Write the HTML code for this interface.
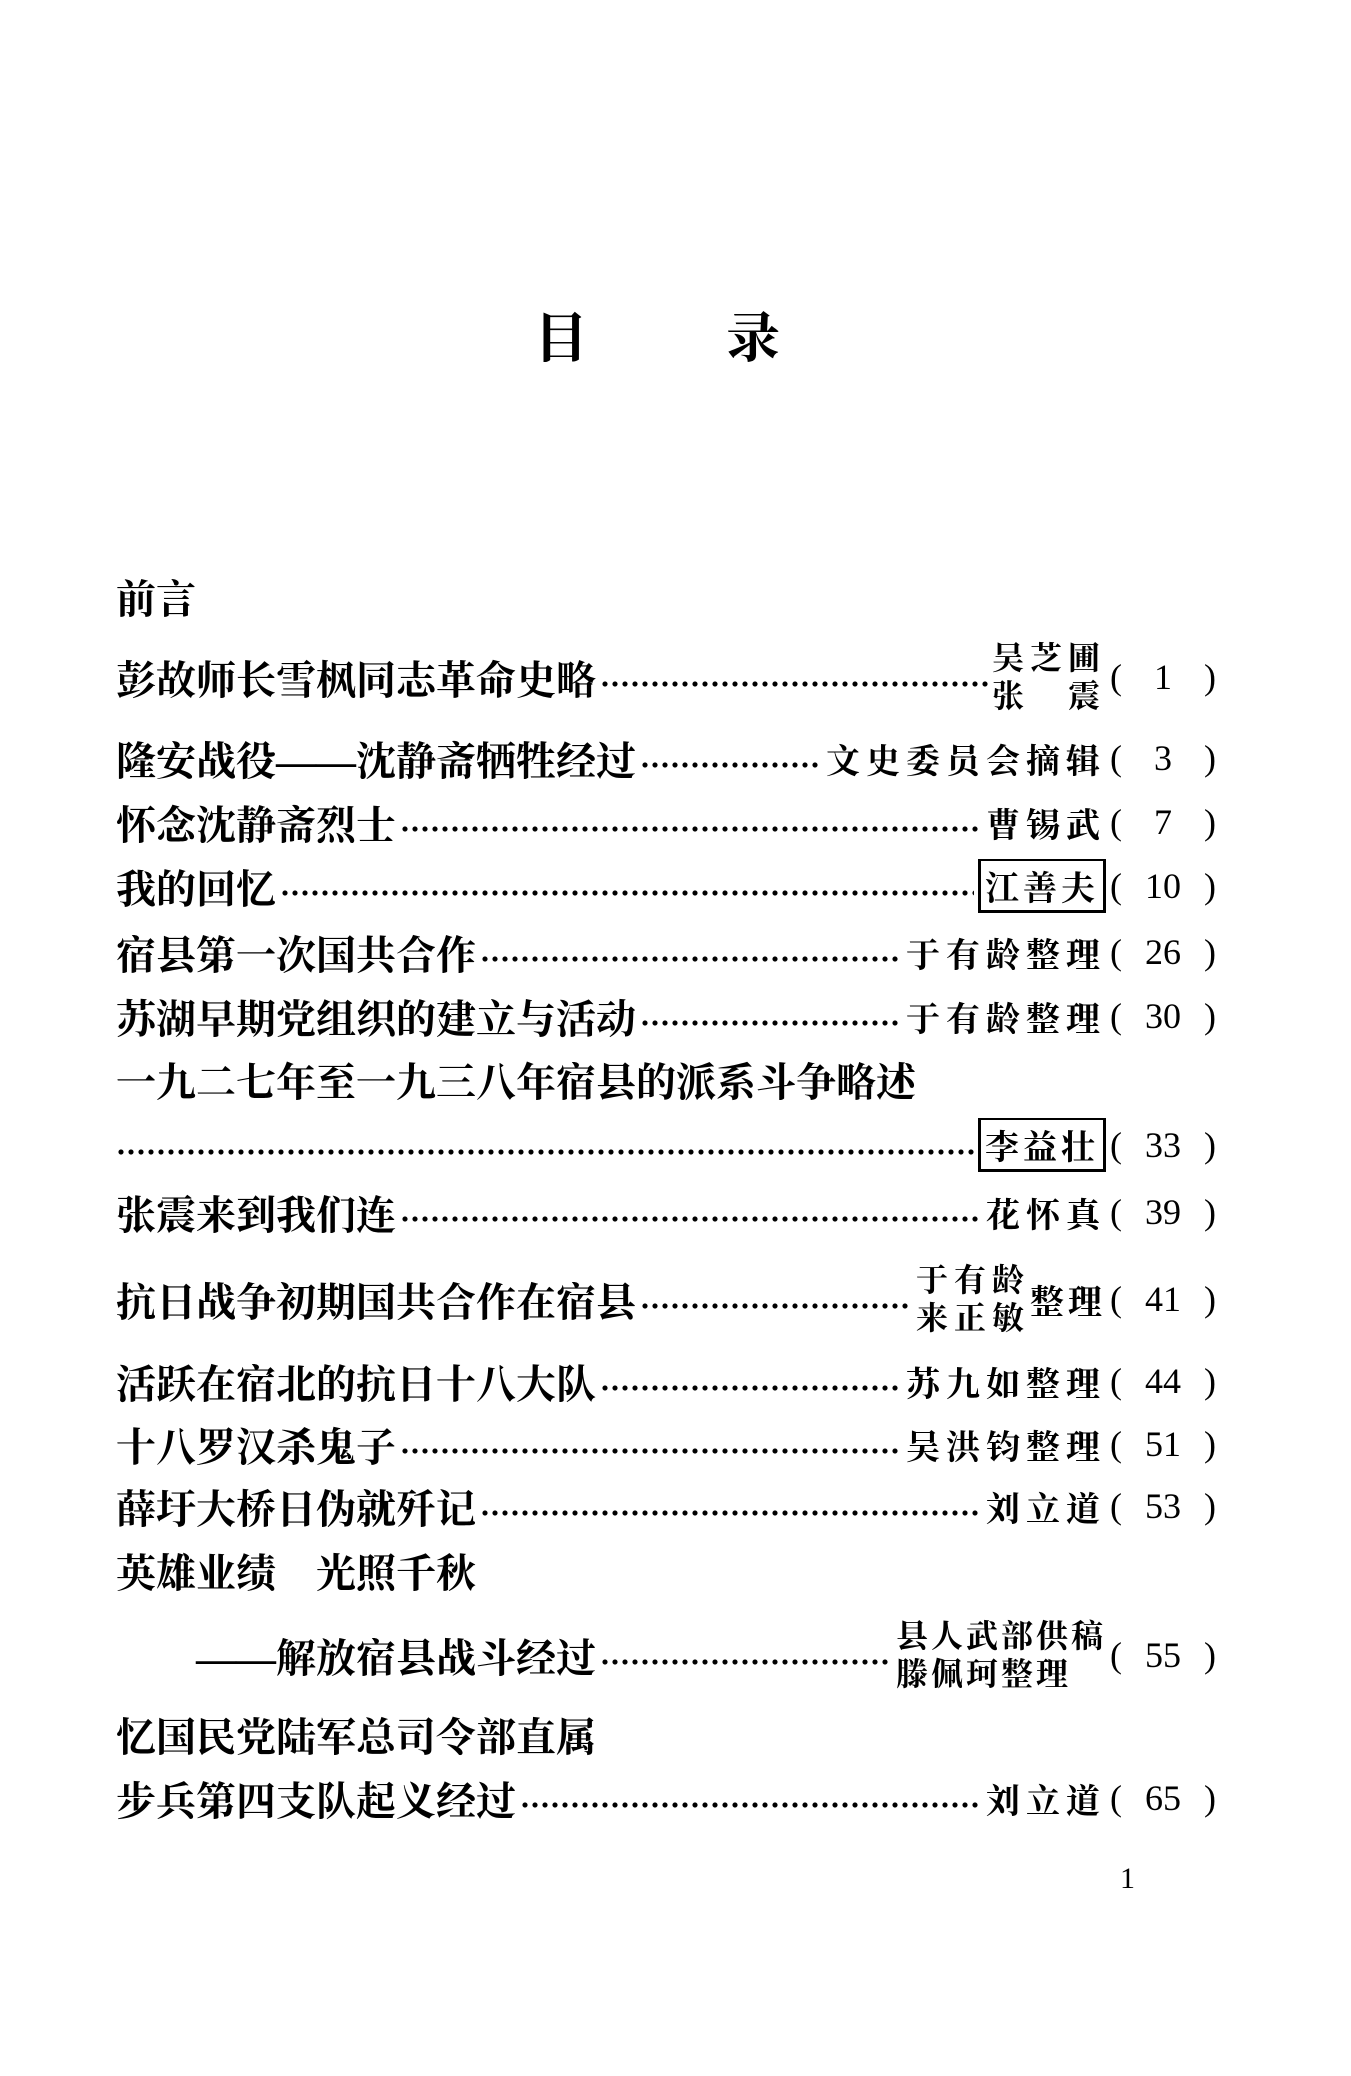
<!DOCTYPE html>
<html><head><meta charset="utf-8"><style>
body{margin:0;width:1351px;height:2076px;background:#fff;position:relative;overflow:hidden;color:#000;font-family:"Liberation Serif","Noto Serif CJK SC",serif}
.t{position:absolute;font-weight:bold;font-size:54px;top:296px}
.r{position:absolute;left:116px;width:990px;height:60px;display:flex;align-items:center;font-size:40px}
.ti{font-family:"Liberation Serif","Noto Serif CJK SC",serif;font-weight:bold;white-space:nowrap}
.d{flex:1;height:8px;margin:14px 4px 0 4px;background-image:radial-gradient(circle,#000 2.3px,transparent 2.8px);background-size:10px 8px;background-repeat:repeat-x}
.a{white-space:nowrap;font-size:34px;letter-spacing:6px;font-weight:bold}
.p{position:absolute;left:1110px;font-size:36px;width:106px;height:60px;display:flex;align-items:center;justify-content:space-between}
.two{display:flex;flex-direction:column;line-height:38px;font-size:32px;letter-spacing:6px;font-weight:bold}
.box{border:3px solid #000;border-top-width:2px;padding:0 4px;letter-spacing:4px}
</style></head><body>
<div class="t" style="left:534px">目</div>
<div class="t" style="left:726px">录</div>

<div class="r" style="top:566px"><span class="ti">前言</span></div>

<div class="r" style="top:647px"><span class="ti">彭故师长雪枫同志革命史略</span><span class="d"></span><span class="two"><span>吴芝圃</span><span>张　震</span></span></div>
<div class="p" style="top:647px"><span>(</span><span>1</span><span>)</span></div>

<div class="r" style="top:728px"><span class="ti">隆安战役——沈静斋牺牲经过</span><span class="d"></span><span class="a">文史委员会摘辑</span></div>
<div class="p" style="top:728px"><span>(</span><span>3</span><span>)</span></div>

<div class="r" style="top:792px"><span class="ti">怀念沈静斋烈士</span><span class="d"></span><span class="a">曹锡武</span></div>
<div class="p" style="top:792px"><span>(</span><span>7</span><span>)</span></div>

<div class="r" style="top:856px"><span class="ti">我的回忆</span><span class="d"></span><span class="a box">江善夫</span></div>
<div class="p" style="top:856px"><span>(</span><span>10</span><span>)</span></div>

<div class="r" style="top:922px"><span class="ti">宿县第一次国共合作</span><span class="d"></span><span class="a">于有龄整理</span></div>
<div class="p" style="top:922px"><span>(</span><span>26</span><span>)</span></div>

<div class="r" style="top:986px"><span class="ti">苏湖早期党组织的建立与活动</span><span class="d"></span><span class="a">于有龄整理</span></div>
<div class="p" style="top:986px"><span>(</span><span>30</span><span>)</span></div>

<div class="r" style="top:1049px"><span class="ti">一九二七年至一九三八年宿县的派系斗争略述</span></div>

<div class="r" style="top:1115px"><span class="d" style="margin-left:0"></span><span class="a box">李益壮</span></div>
<div class="p" style="top:1115px"><span>(</span><span>33</span><span>)</span></div>

<div class="r" style="top:1182px"><span class="ti">张震来到我们连</span><span class="d"></span><span class="a">花怀真</span></div>
<div class="p" style="top:1182px"><span>(</span><span>39</span><span>)</span></div>

<div class="r" style="top:1269px"><span class="ti">抗日战争初期国共合作在宿县</span><span class="d"></span><span class="two"><span>于有龄</span><span>来正敏</span></span><span class="a" style="letter-spacing:4px">整理</span></div>
<div class="p" style="top:1269px"><span>(</span><span>41</span><span>)</span></div>

<div class="r" style="top:1351px"><span class="ti">活跃在宿北的抗日十八大队</span><span class="d"></span><span class="a">苏九如整理</span></div>
<div class="p" style="top:1351px"><span>(</span><span>44</span><span>)</span></div>

<div class="r" style="top:1414px"><span class="ti">十八罗汉杀鬼子</span><span class="d"></span><span class="a">吴洪钧整理</span></div>
<div class="p" style="top:1414px"><span>(</span><span>51</span><span>)</span></div>

<div class="r" style="top:1476px"><span class="ti">薛圩大桥日伪就歼记</span><span class="d"></span><span class="a">刘立道</span></div>
<div class="p" style="top:1476px"><span>(</span><span>53</span><span>)</span></div>

<div class="r" style="top:1540px"><span class="ti">英雄业绩　光照千秋</span></div>

<div class="r" style="top:1625px;left:196px;width:910px"><span class="ti">——解放宿县战斗经过</span><span class="d"></span><span class="two" style="letter-spacing:3px"><span>县人武部供稿</span><span>滕佩珂整理</span></span></div>
<div class="p" style="top:1625px"><span>(</span><span>55</span><span>)</span></div>

<div class="r" style="top:1704px"><span class="ti">忆国民党陆军总司令部直属</span></div>

<div class="r" style="top:1768px"><span class="ti">步兵第四支队起义经过</span><span class="d"></span><span class="a">刘立道</span></div>
<div class="p" style="top:1768px"><span>(</span><span>65</span><span>)</span></div>

<div style="position:absolute;left:1120px;top:1862px;font-size:30px">1</div>
</body></html>
